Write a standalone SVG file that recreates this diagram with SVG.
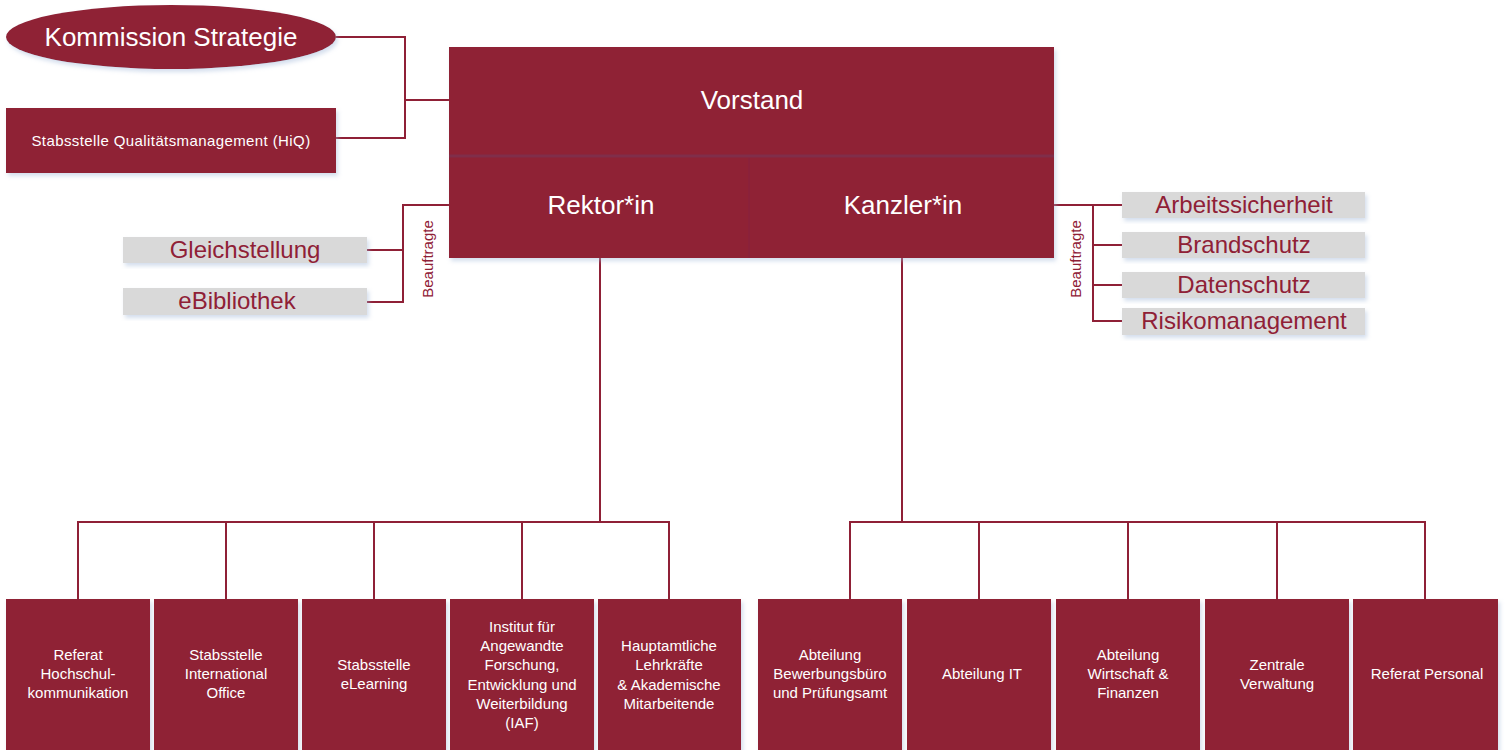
<svg xmlns="http://www.w3.org/2000/svg" width="1505" height="750" viewBox="0 0 1505 750">
<defs>
<filter id="sh" x="-10%" y="-10%" width="125%" height="130%">
<feDropShadow dx="2" dy="3" stdDeviation="2" flood-color="#9fb6d8" flood-opacity="0.45"/>
</filter>
</defs>
<style>
.box{fill:#8f2036;filter:url(#sh)}
.gbox{fill:#d9d9d9;filter:url(#sh)}
.wt{fill:#ffffff;font-family:"Liberation Sans",Arial,sans-serif;text-anchor:middle}
.rt{fill:#8f2036;font-family:"Liberation Sans",Arial,sans-serif;text-anchor:middle}
.bt{font-size:15px}
.gt{font-size:24px}
.conn{fill:none;stroke:#8f2036;stroke-width:2}
</style>
<rect width="1505" height="750" fill="#ffffff"/>

<g id="connectors" class="conn">
<polyline points="336,37 405,37 405,138 336,138"/>
<line x1="405" y1="100" x2="449" y2="100"/>
<polyline points="449,205 403,205 403,302 367,302"/>
<line x1="403" y1="250" x2="367" y2="250"/>
<polyline points="1054,205 1122,205"/>
<polyline points="1093,205 1093,321 1122,321"/>
<line x1="1093" y1="245" x2="1122" y2="245"/>
<line x1="1093" y1="285" x2="1122" y2="285"/>
<line x1="600" y1="258" x2="600" y2="522"/>
<line x1="78" y1="522" x2="669" y2="522"/>
<line x1="78" y1="521" x2="78" y2="599"/>
<line x1="226" y1="522" x2="226" y2="599"/>
<line x1="374" y1="522" x2="374" y2="599"/>
<line x1="522" y1="522" x2="522" y2="599"/>
<line x1="669" y1="521" x2="669" y2="599"/>
<line x1="902" y1="258" x2="902" y2="522"/>
<line x1="850" y1="522" x2="1425" y2="522"/>
<line x1="850" y1="521" x2="850" y2="599"/>
<line x1="979" y1="522" x2="979" y2="599"/>
<line x1="1128" y1="522" x2="1128" y2="599"/>
<line x1="1277" y1="522" x2="1277" y2="599"/>
<line x1="1425" y1="521" x2="1425" y2="599"/>
</g>

<g id="kommission">
<ellipse cx="171" cy="37" rx="165" ry="32" fill="#8f2036" filter="url(#sh)"/>
<text class="wt" x="171" y="46" font-size="26">Kommission Strategie</text>
</g>
<g id="hiq">
<rect class="box" x="6" y="108" width="330" height="65"/>
<text class="wt" x="171" y="146" font-size="15" letter-spacing="0.4">Stabsstelle Qualitätsmanagement (HiQ)</text>
</g>

<g id="vorstand">
<rect class="box" x="449" y="47" width="605" height="211"/>
<line x1="449" y1="156" x2="1054" y2="156" stroke="#7d3150" stroke-width="3" opacity="0.8"/>
<line x1="749" y1="158" x2="749" y2="258" stroke="#862141" stroke-width="1"/>
<text class="wt" x="752" y="109" font-size="26">Vorstand</text>
</g>
<g id="rektor">
<text class="wt" x="601" y="214" font-size="26">Rektor*in</text>
</g>
<g id="kanzler">
<text class="wt" x="903" y="214" font-size="26">Kanzler*in</text>
</g>

<g id="gleichstellung">
<rect class="gbox" x="123" y="237" width="244" height="26"/>
<text class="rt gt" x="245" y="258">Gleichstellung</text>
</g>
<g id="ebibliothek">
<rect class="gbox" x="123" y="288" width="244" height="27"/>
<text class="rt gt" x="237" y="309">eBibliothek</text>
</g>
<g id="beauftragte-links">
<text class="rt" x="0" y="0" font-size="15" transform="translate(433,259) rotate(-90)">Beauftragte</text>
</g>

<g id="arbeitssicherheit">
<rect class="gbox" x="1122" y="192" width="243" height="26"/>
<text class="rt gt" x="1244" y="213">Arbeitssicherheit</text>
</g>
<g id="brandschutz">
<rect class="gbox" x="1122" y="232" width="243" height="26"/>
<text class="rt gt" x="1244" y="253">Brandschutz</text>
</g>
<g id="datenschutz">
<rect class="gbox" x="1122" y="272" width="243" height="26"/>
<text class="rt gt" x="1244" y="293">Datenschutz</text>
</g>
<g id="risikomanagement">
<rect class="gbox" x="1122" y="308" width="243" height="27"/>
<text class="rt gt" x="1244" y="329">Risikomanagement</text>
</g>
<g id="beauftragte-rechts">
<text class="rt" x="0" y="0" font-size="15" transform="translate(1081,259) rotate(-90)">Beauftragte</text>
</g>

<g id="referat-hk">
<rect class="box" x="6" y="599" width="144" height="155"/>
<text class="wt bt" x="78" y="660">Referat</text>
<text class="wt bt" x="78" y="679">Hochschul-</text>
<text class="wt bt" x="78" y="698">kommunikation</text>
</g>
<g id="international-office">
<rect class="box" x="154" y="599" width="144" height="155"/>
<text class="wt bt" x="226" y="660">Stabsstelle</text>
<text class="wt bt" x="226" y="679">International</text>
<text class="wt bt" x="226" y="698">Office</text>
</g>
<g id="elearning">
<rect class="box" x="302" y="599" width="144" height="155"/>
<text class="wt bt" x="374" y="670">Stabsstelle</text>
<text class="wt bt" x="374" y="689">eLearning</text>
</g>
<g id="iaf">
<rect class="box" x="450" y="599" width="144" height="155"/>
<text class="wt bt" x="522" y="632">Institut für</text>
<text class="wt bt" x="522" y="651">Angewandte</text>
<text class="wt bt" x="522" y="670">Forschung,</text>
<text class="wt bt" x="522" y="690">Entwicklung und</text>
<text class="wt bt" x="522" y="709">Weiterbildung</text>
<text class="wt bt" x="522" y="728">(IAF)</text>
</g>
<g id="lehrkraefte">
<rect class="box" x="598" y="599" width="143" height="155"/>
<text class="wt bt" x="669" y="651">Hauptamtliche</text>
<text class="wt bt" x="669" y="670">Lehrkräfte</text>
<text class="wt bt" x="669" y="690">&amp; Akademische</text>
<text class="wt bt" x="669" y="709">Mitarbeitende</text>
</g>

<g id="bewerbungsbuero">
<rect class="box" x="758" y="599" width="144" height="155"/>
<text class="wt bt" x="830" y="660">Abteilung</text>
<text class="wt bt" x="830" y="679">Bewerbungsbüro</text>
<text class="wt bt" x="830" y="698">und Prüfungsamt</text>
</g>
<g id="abteilung-it">
<rect class="box" x="907" y="599" width="144" height="155"/>
<text class="wt bt" x="982" y="679">Abteilung IT</text>
</g>
<g id="wirtschaft-finanzen">
<rect class="box" x="1056" y="599" width="144" height="155"/>
<text class="wt bt" x="1128" y="660">Abteilung</text>
<text class="wt bt" x="1128" y="679">Wirtschaft &amp;</text>
<text class="wt bt" x="1128" y="698">Finanzen</text>
</g>
<g id="zentrale-verwaltung">
<rect class="box" x="1205" y="599" width="144" height="155"/>
<text class="wt bt" x="1277" y="670">Zentrale</text>
<text class="wt bt" x="1277" y="689">Verwaltung</text>
</g>
<g id="referat-personal">
<rect class="box" x="1353" y="599" width="145" height="155"/>
<text class="wt bt" x="1427" y="679">Referat Personal</text>
</g>
</svg>
